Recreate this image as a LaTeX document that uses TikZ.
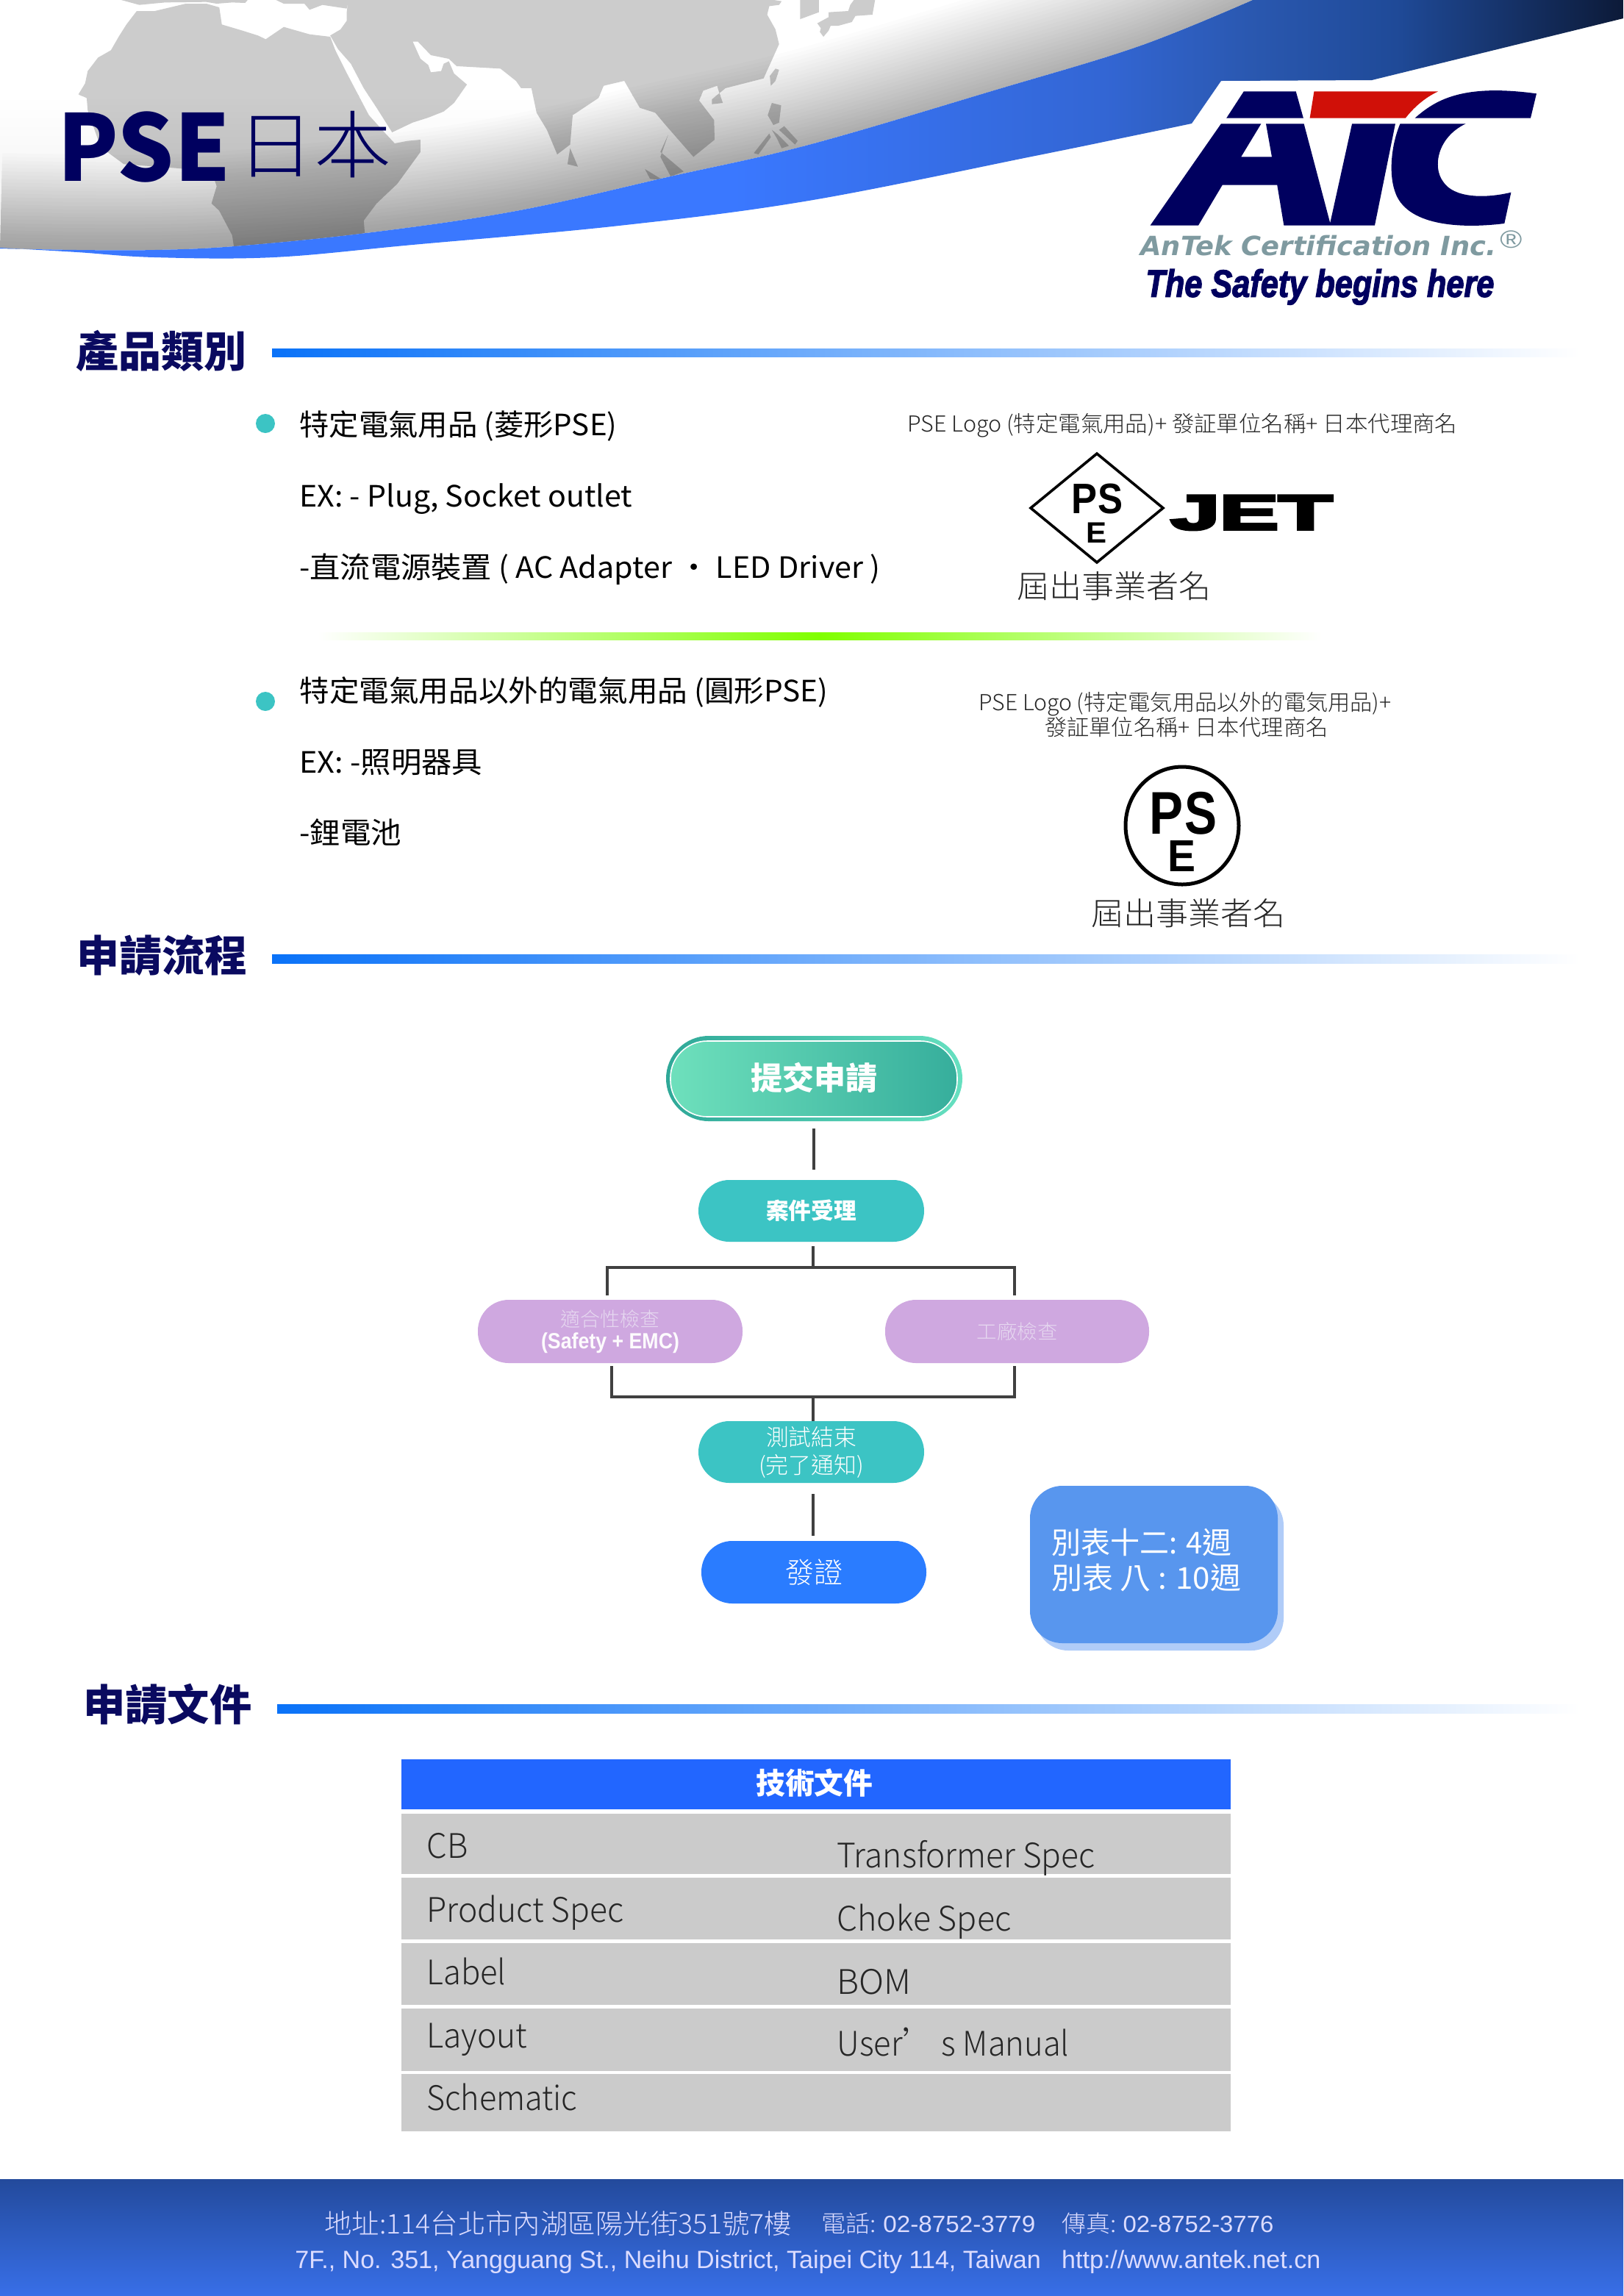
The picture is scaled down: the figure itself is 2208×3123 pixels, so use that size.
\documentclass[tikz,border=0pt]{standalone}
\usepackage{fontspec}
\usepackage{graphicx}
\setmainfont{Noto Sans CJK TC}
\newfontfamily\ltf{Noto Sans CJK TC Light}
\newfontfamily\arf{Liberation Sans}
\newfontfamily\jetf[BoldFeatures={FakeBold=5}]{Liberation Sans}
\newfontfamily\safef[BoldItalicFeatures={FakeBold=2.8}]{Liberation Sans}
\newfontfamily\antf{DejaVu Sans}
\definecolor{navy}{HTML}{0A0A60}
\definecolor{logonavy}{HTML}{00005F}
\definecolor{logored}{HTML}{D01008}
\definecolor{logogray}{HTML}{7F9AA0}
\definecolor{tealpill}{HTML}{3CC4C4}
\definecolor{purplepill}{HTML}{CFA8E0}
\definecolor{purpletext}{HTML}{E6D8F0}
\definecolor{bluepill}{HTML}{2A7CFF}
\definecolor{boxblue}{HTML}{5896EE}
\definecolor{boxshadow}{HTML}{B0CCF8}
\definecolor{rowgray}{HTML}{CBCBCB}
\definecolor{headblue}{HTML}{2266FF}
\definecolor{barblue}{HTML}{0A72F8}
\definecolor{conn}{HTML}{404040}
\definecolor{foottext}{HTML}{DCDCFF}
\definecolor{sub1}{HTML}{2FA898}
\definecolor{sub2}{HTML}{66E0C0}
\definecolor{sub3}{HTML}{6EE0BC}
\definecolor{sub4}{HTML}{36AE9C}
\definecolor{foot1}{HTML}{234A9C}
\definecolor{foot2}{HTML}{386FE8}
\definecolor{lime}{HTML}{80FF00}
\pgfdeclarehorizontalshading{bandshade}{100bp}{
 color(0bp)=(rgb,255:red,58;green,120;blue,255);
 color(25bp)=(rgb,255:red,58;green,120;blue,255);
 color(47.6bp)=(rgb,255:red,58;green,120;blue,255);
 color(59bp)=(rgb,255:red,51;green,102;blue,212);
 color(63.5bp)=(rgb,255:red,42;green,88;blue,176);
 color(68bp)=(rgb,255:red,31;green,74;blue,152);
 color(75bp)=(rgb,255:red,12;green,26;blue,56);
 color(100bp)=(rgb,255:red,12;green,26;blue,56)}
\newsavebox\fitbox
\newcommand\fitx[2]{\sbox\fitbox{#2}\pgfmathsetmacro\fitr{#1*0.5/\the\wd\fitbox}\scalebox{\fitr}[1]{\usebox\fitbox}}
\newcommand\psz[2]{\fontsize{#1}{#2}\selectfont}
% name, x, y centre, size px, width px, options, text
\newcommand\putT[7]{\pgfmathsetmacro\tby{#3+0.36*#4}\pgfmathsetmacro\tsz{#4/2}%
 \node[anchor=base west,inner sep=0pt,#6] (#1) at (#2,\tby) {\fontsize{\tsz}{\tsz}\selectfont\fitx{#5}{#7}};}
\tikzset{
 pill/.style={inner sep=0pt,rounded corners=21pt,text=white,align=center},
 link/.style={draw=conn,line width=1.6pt},
 heading/.style={font=\bfseries,text=navy},
 smalltxt/.style={font=\ltf,text=black!85},
 rowtxt/.style={font=\ltf,text=black!85},
 foot/.style={text=foottext},
 dot/.style={circle,fill=tealpill,inner sep=0pt,minimum size=13pt},
 bar/.style={left color=barblue,right color=white},
 row/.style={fill=rowgray}
}
\def\ucurve{plot[smooth,tension=.6] coordinates {(1704,0) (1549,63) (1352,123) (1100,197) (912,240) (702,287) (498,317) (319,335) (210,340) (105,340) (0,338)}}
\def\ucurveto{-- plot[smooth,tension=.6] coordinates {(1704,0) (1549,63) (1352,123) (1100,197) (912,240) (702,287) (498,317) (319,335) (210,340) (105,340) (0,338)}}
\def\urevto{-- plot[smooth,tension=.6] coordinates {(0,338) (105,340) (210,340) (319,335) (498,317) (702,287) (912,240) (1100,197) (1352,123) (1549,63) (1704,0)}}
\def\lcurveto{-- plot[smooth,tension=.6] coordinates {(1621,168) (1530,187) (1408,212) (1100,273) (842,307) (561,333) (372,350) (210,350) (105,343) (0,337)}}
\def\conts{
 (235,0)--(270,20)--(320,10)--(400,8)--(420,15)--(450,10)--(475,12)--(480,0)--cycle
 (535,0)--(550,15)--(590,15)--(600,40)--(625,20)--(672,35)--(675,0)--cycle
 (265,45)--(245,100)--(230,150)--(215,205)--(190,235)--(170,290)--(165,340)--(152,385)--(168,400)--(170,450)--(195,600)--(240,670)--(365,690)--(415,730)--(420,760)--(410,830)--(425,860)--(450,960)--(455,1030)--(710,1030)--(705,900)--(730,830)--(770,750)--(815,620)--(815,570)--(790,575)--(765,585)--(745,540)--(715,470)--(690,370)--(670,290)--(650,205)--(640,150)--(620,145)--(600,140)--(550,110)--(515,160)--(500,145)--(470,125)--(430,100)--(425,30)--(400,15)--(360,15)--(300,45)--cycle
 (675,0)--(672,50)--(672,85)--(660,120)--(640,145)--(655,200)--(680,260)--(705,360)--(730,440)--(760,540)--(800,500)--(830,480)--(860,455)--(880,420)--(905,345)--(880,300)--(870,250)--(860,260)--(855,290)--(835,295)--(830,265)--(815,240)--(800,170)--(810,170)--(835,225)--(870,240)--(885,270)--(970,280)--(1000,330)--(1010,360)--(1030,360)--(1040,460)--(1060,530)--(1080,630)--(1105,590)--(1110,470)--(1160,400)--(1170,350)--(1210,330)--(1240,440)--(1270,460)--(1290,510)--(1344,640)--(1385,570)--(1384,490)--(1355,410)--(1363,370)--(1390,350)--(1392,365)--(1401,420)--(1380,425)--(1380,405)--(1406,360)--(1406,360)--(1480,320)--(1510,180)--(1503,120)--(1487,60)--(1491,25)--(1510,20)--(1515,5)--(1500,0)--cycle
 (1105,605)--(1120,680)--(1100,670)--cycle
 (1295,550)--(1280,620)--(1325,700)--(1300,720)--(1280,640)--cycle
 (1250,690)--(1285,735)--(1260,730)--cycle
 (1551,0)--(1587,0)--(1587,50)--(1551,78)--cycle
 (1584,95)--(1606,70)--(1606,50)--(1644,45)--(1648,20)--(1655,0)--(1696,0)--(1691,60)--(1658,65)--(1651,90)--(1625,105)--(1610,105)--(1606,125)--(1596,150)--(1589,130)--(1591,115)--cycle
 (1503,280)--(1510,285)--(1503,330)--(1494,350)--(1492,310)--cycle
 (1496,420)--(1514,430)--(1510,500)--(1499,510)--(1488,470)--cycle
 (1520,515)--(1546,575)--(1541,590)--(1510,530)--cycle
 (1496,530)--(1508,550)--(1529,595)--(1515,605)--(1506,565)--cycle
 (1491,545)--(1494,560)--(1470,630)--(1461,625)--cycle
}
\begin{document}
\begin{tikzpicture}[x=0.5pt,y=-0.5pt]
\useasboundingbox (0,0) rectangle (2208,3123);
\fill[white] (0,0) rectangle (2208,3123);
% globe
\begin{scope}
 \clip (0,0) \ucurveto -- cycle;
 \fill[white] (0,0) rectangle (1710,132);
 \shade[top color=white,bottom color=black!7] (0,130) rectangle (1710,345);
 \begin{scope}[xscale=0.7018,yscale=0.3333]
  \begin{scope}
   \clip \conts;
   \fill[black!20] (0,0) rectangle (2500,393);
   \shade[top color=black!20,bottom color=black!30] (0,390) rectangle (2500,1040);
  \end{scope}
 \end{scope}
 \foreach \w in {10,20,...,260}{\draw[black,opacity=.0115,line width=\w*0.5pt] \ucurve;}
\end{scope}
% blue band
\shade[shading=bandshade,shading angle=0] (2208,0) -- (2208,25) -- (1866,109) -- (1661,110) \lcurveto \urevto -- cycle;
\putT{pse}{78}{201}{125}{235}{font=\bfseries,text=logonavy}{PSE}
\putT{jp}{322}{198}{100}{210}{font=\ltf,text=logonavy}{日本}
% logo
\begin{scope}[shift={(1530,100)},xscale=0.3636,yscale=0.3333]
 \fill[logonavy] (380,182) -- (445,73) -- (640,73) -- (668,182) -- cycle;
 \fill[logored] (692,182) -- (708,73) -- (1172,73) .. controls (1120,100) and (1080,140) .. (1050,182) -- cycle;
 \fill[logonavy] (1085,182) .. controls (1160,110) and (1260,40) .. (1540,82) -- (1518,182) -- cycle;
 \fill[logonavy] (95,620) -- (275,620) -- (365,455) -- (570,455) -- (595,620) -- (935,620) -- (1012,205) -- (850,205) -- (768,610) -- (670,205) -- (528,205) -- (550,340) -- (435,340) -- (510,205) -- (360,205) -- cycle;
 \fill[logonavy] (1030,205) .. controls (1000,280) and (985,400) .. (1010,480) .. controls (1050,620) and (1250,635) .. (1420,612) -- (1445,485) .. controls (1350,510) and (1230,510) .. (1190,440) .. controls (1150,380) and (1170,260) .. (1275,205) -- cycle;
\end{scope}
\putT{antek}{1551}{335}{36}{484}{font=\antf\bfseries\itshape,text=logogray}{AnTek Certification Inc.}
\putT{reg}{2040}{325}{34}{30}{font=\arf,text=logogray}{®}
\putT{safety}{1558}{385}{52}{474}{font=\safef\bfseries\itshape,text=logonavy}{The Safety begins here}
% section 1
\putT{h1}{103}{479}{58}{232}{heading}{產品類別}
\fill[bar] (370,474) rectangle (2150,485);
\node[dot] (b1) at (361,576) {};
\putT{l1}{407}{578}{40}{432}{}{特定電氣用品 (菱形PSE)}
\putT{l2}{407}{675}{40}{453}{}{EX: - Plug, Socket outlet}
\putT{l3}{407}{772}{40}{790}{}{-直流電源裝置 ( AC Adapter · LED Driver )}
\putT{r1}{1234}{577}{30}{748}{smalltxt}{PSE Logo (特定電氣用品)+ 發証單位名稱+ 日本代理商名}
\draw[black,line width=1.8pt] (1402,691) -- (1492,617) -- (1582,691) -- (1492,765) -- cycle;
\putT{dp}{1457}{678}{58}{35}{font=\arf\bfseries,text=black}{P}
\putT{ds}{1493}{678}{58}{34}{font=\arf\bfseries,text=black}{S}
\putT{de}{1477}{724}{40}{28}{font=\arf\bfseries,text=black}{E}
\putT{jet}{1592}{696}{67}{220}{font=\jetf\bfseries,text=black}{JET}
\putT{n1}{1383}{798}{43}{264}{smalltxt}{屆出事業者名}
\shade[left color=white,right color=white,middle color=lime] (432,860) rectangle (1798,870);
\node[dot] (b2) at (361,954) {};
\putT{l4}{407}{940}{40}{719}{}{特定電氣用品以外的電氣用品 (圓形PSE)}
\putT{l5}{407}{1037}{40}{249}{}{EX: -照明器具}
\putT{l6}{407}{1133}{40}{139}{}{-鋰電池}
\putT{r2}{1331}{956}{30}{561}{smalltxt}{PSE Logo (特定電気用品以外的電気用品)+}
\putT{r3}{1421}{990}{30}{385}{smalltxt}{發証單位名稱+ 日本代理商名}
\draw[black,line width=2.5pt] (1608,1123) ellipse [x radius=38.5pt,y radius=40pt];
\putT{cp}{1563}{1105}{82}{46}{font=\arf\bfseries,text=black}{P}
\putT{cs}{1611}{1105}{82}{44}{font=\arf\bfseries,text=black}{S}
\putT{ce}{1588}{1164}{61}{38}{font=\arf\bfseries,text=black}{E}
\putT{n2}{1484}{1243}{43}{264}{smalltxt}{屆出事業者名}
% section 2
\putT{h2}{104}{1301}{58}{232}{heading}{申請流程}
\fill[bar] (370,1298) rectangle (2150,1310);
% flow
\shade[left color=sub1,right color=sub2,rounded corners=29pt] (906,1409) rectangle (1309,1525);
\node[pill,draw=white,line width=0.8pt,left color=sub3,right color=sub4,minimum width=195pt,minimum height=51.5pt,rounded corners=25pt,font=\bfseries\psz{21.5}{26}] (submit) at (1107,1467.5) {\raisebox{4pt}{\fitx{172}{提交申請}}};
\node[pill,fill=tealpill,minimum width=153.5pt,minimum height=42pt,font=\bfseries\psz{15.5}{19}] (accept) at (1103.5,1647) {\fitx{123}{案件受理}};
\node[pill,fill=purplepill,minimum width=180pt,minimum height=43pt,text=purpletext,font=\psz{13.5}{15}] (fit) at (830,1811) {\raisebox{1.5pt}{\fitx{135}{\ltf 適合性檢查}}\\\raisebox{1.5pt}{\fitx{188}{\fontsize{15}{15}\arf\bfseries\color{white!95!purplepill}(Safety + EMC)}}};
\node[pill,fill=purplepill,minimum width=179.5pt,minimum height=43pt,text=purpletext,font=\psz{13.5}{15}] (factory) at (1383.5,1811) {\raisebox{0.5pt}{\fitx{110}{\ltf 工廠檢查}}};
\node[pill,fill=tealpill,minimum width=153.5pt,minimum height=42pt,font=\ltf\psz{15.5}{19}] (test) at (1103.5,1975) {\fitx{123}{測試結束}\\\fitx{143}{(完了通知)}};
\node[pill,fill=bluepill,minimum width=153pt,minimum height=42.5pt,font=\ltf\psz{19.5}{23}] (cert) at (1107,2138.5) {\fitx{78}{發證}};
\coordinate (j1) at (1106,1724);
\coordinate (j2) at (1106,1900);
\coordinate (tl) at (826,1762);
\coordinate (tr) at (1380,1762);
\coordinate (bl) at (832,1858);
\coordinate (br) at (1380,1858);
\draw[link,shorten <=7.5pt,shorten >=7pt] (submit.south) -- (submit.south |- accept.north);
\draw[link,shorten <=3pt] (accept.south -| j1) -- (j1);
\draw[link] (tl) |- (j1) -| (tr);
\draw[link] (bl) |- (j2) -| (br);
\draw[link] (j2) -- (test.north -| j2);
\draw[link,shorten <=7.5pt,shorten >=3.5pt] (test.south -| j2) -- (j2 |- cert.north);
\node[pill,fill=boxshadow,minimum width=168.5pt,minimum height=107pt,rounded corners=22pt] (boxsh) at (1577.5,2138) {};
\node[pill,fill=boxblue,minimum width=168.5pt,minimum height=107pt,rounded corners=22pt] (box) at (1569.5,2128) {};
\putT{bx1}{1430}{2099}{41}{245}{text=white}{別表十二: 4週}
\putT{bx2}{1430}{2147}{41}{258}{text=white}{別表 八 : 10週}
% section 3
\putT{h3}{113}{2320}{58}{229}{heading}{申請文件}
\fill[bar] (377,2318) rectangle (2150,2330);
\fill[headblue] (546,2393) rectangle (1674,2461);
\putT{th}{1028}{2426}{40}{159}{font=\bfseries,text=white}{技術文件}
\fill[row] (546,2467) rectangle (1674,2549);
\fill[row] (546,2554) rectangle (1674,2638);
\fill[row] (546,2643) rectangle (1674,2727);
\fill[row] (546,2732) rectangle (1674,2817);
\fill[row] (546,2821) rectangle (1674,2899);
\putT{c1}{580}{2511}{46}{56}{rowtxt}{CB}
\putT{c2}{580}{2598}{46}{268}{rowtxt}{Product Spec}
\putT{c3}{580}{2683}{46}{108}{rowtxt}{Label}
\putT{c4}{580}{2769}{46}{137}{rowtxt}{Layout}
\putT{c5}{580}{2854}{46}{205}{rowtxt}{Schematic}
\putT{d1}{1138}{2524}{46}{351}{rowtxt}{Transformer Spec}
\putT{d2}{1138}{2610}{46}{237}{rowtxt}{Choke Spec}
\putT{d3}{1138}{2696}{46}{101}{rowtxt}{BOM}
\putT{d4}{1138}{2780}{46}{316}{rowtxt}{User’ s Manual}
% footer
\shade[top color=foot1,bottom color=foot2] (0,2964) rectangle (2208,3123);
\putT{f1}{441}{3025}{37}{636}{foot,font=\ltf}{地址:114台北市內湖區陽光街351號7樓}
\putT{f2}{1117}{3025}{32}{291}{foot}{{\ltf 電話:}{\arf\ 02-8752-3779}}
\putT{f3}{1444}{3025}{32}{288}{foot}{{\ltf 傳真:}{\arf\ 02-8752-3776}}
\putT{f4}{401}{3073}{34}{1395}{foot,font=\arf}{7F., No. 351, Yangguang St., Neihu District, Taipei City 114, Taiwan\ \ \ http://www.antek.net.cn}
\end{tikzpicture}
\end{document}
